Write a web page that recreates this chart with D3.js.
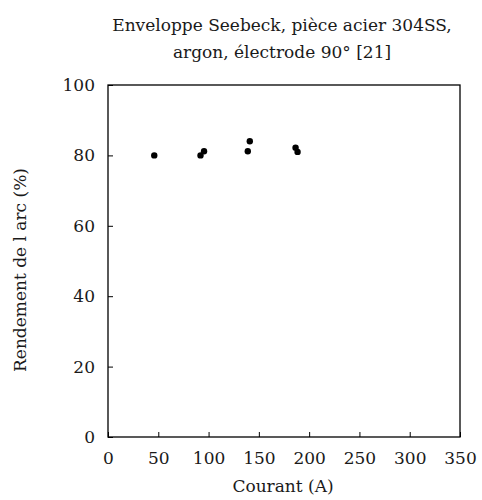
<!DOCTYPE html>
<html>
<head>
<meta charset="utf-8">
<script src="https://cdn.jsdelivr.net/npm/d3@7"></script>
<style>
  body { margin: 0; background: #fff; }
  svg text { font-family: "DejaVu Serif", serif; fill: #1a1a1a; }
</style>
</head>
<body>
<svg id="chart" width="482" height="500"></svg>
<script>
// data
const courant = [46, 92, 95.5, 139, 141, 186.5, 188.5];
const rendement = [80, 80, 81.2, 81.2, 84, 82.2, 81];
const xTicks = [0, 50, 100, 150, 200, 250, 300, 350];
const yTicks = [0, 20, 40, 60, 80, 100];
const titleLines = ['Enveloppe Seebeck, pièce acier 304SS,', 'argon, électrode 90° [21]'];

const margin = { top: 85, right: 22, bottom: 63, left: 108 };
const width = 482;
const height = 500;
const fontSize = 17;

const svg = d3.select('#chart');

const x = d3.scaleLinear()
  .domain([0, 350])
  .range([margin.left, width - margin.right]);

const y = d3.scaleLinear()
  .domain([0, 100])
  .range([height - margin.bottom, margin.top]);

// frame
svg.append('rect')
  .attr('x', x(0))
  .attr('y', y(100))
  .attr('width', x(350) - x(0))
  .attr('height', y(0) - y(100))
  .attr('fill', 'none')
  .attr('stroke', '#000')
  .attr('stroke-width', 1.3);

// axes, ticks pointing inward
const xAxis = g => g
  .attr('transform', `translate(0,${y(0)})`)
  .call(d3.axisBottom(x).tickValues(xTicks).tickSize(-5).tickPadding(15))
  .call(g => g.select('.domain').remove());

const yAxis = g => g
  .attr('transform', `translate(${x(0)},0)`)
  .call(d3.axisLeft(y).tickValues(yTicks).tickSize(-5).tickPadding(13))
  .call(g => g.select('.domain').remove());

svg.append('g').call(xAxis);
svg.append('g').call(yAxis);

svg.selectAll('.tick line').attr('stroke', '#000').attr('stroke-width', 1);
svg.selectAll('.tick text')
  .attr('font-size', fontSize)
  .attr('fill', '#1a1a1a');

// points
svg.append('g')
  .selectAll('circle')
  .data(courant)
  .join('circle')
    .attr('cx', (d, i) => x(d))
    .attr('cy', (d, i) => y(rendement[i]))
    .attr('r', 3.2)
    .attr('fill', '#000');

// title
svg.append('text')
  .attr('x', 282)
  .attr('y', 31)
  .attr('text-anchor', 'middle')
  .attr('font-size', fontSize)
  .selectAll('tspan')
  .data(titleLines)
  .join('tspan')
    .attr('x', 282)
    .attr('dy', (d, i) => i === 0 ? 0 : 27)
    .text(d => d);

// axis labels
svg.append('text')
  .attr('x', 283)
  .attr('y', 492)
  .attr('text-anchor', 'middle')
  .attr('font-size', fontSize)
  .text('Courant (A)');

svg.append('text')
  .attr('transform', 'translate(26,270) rotate(-90)')
  .attr('text-anchor', 'middle')
  .attr('font-size', fontSize)
  .text('Rendement de l arc (%)');
</script>
</body>
</html>
